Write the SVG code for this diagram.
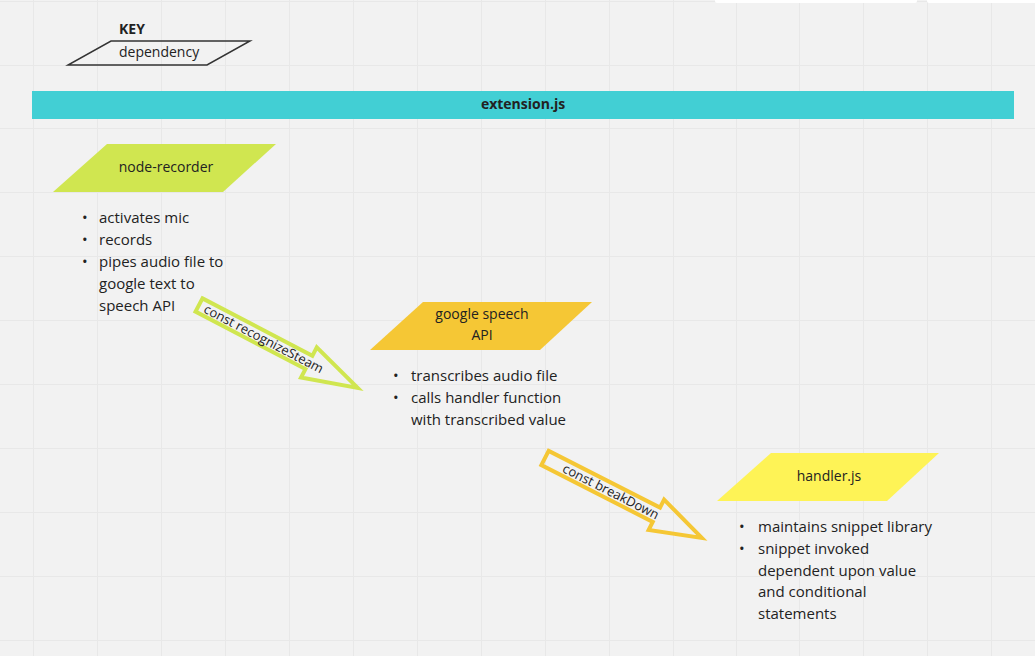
<svg xmlns="http://www.w3.org/2000/svg" width="1035" height="656" viewBox="0 0 1035 656">
<defs>
<style>
text{font-family:"Open Sans","Noto Sans","Liberation Sans",sans-serif;fill:#222;}
.t{font-size:14px;text-anchor:middle;}
.b{font-size:15px;}
.grid line{stroke:#e8e8e8;stroke-width:1;}
.arr{fill:none;stroke-width:4;stroke-linejoin:miter;}
.al{font-size:13px;text-anchor:middle;}
</style>
</defs>
<rect x="0" y="0" width="1035" height="656" fill="#f2f2f2"/>
<g class="grid">
<line x1="33.5" y1="0" x2="33.5" y2="656"/><line x1="97.5" y1="0" x2="97.5" y2="656"/><line x1="161.5" y1="0" x2="161.5" y2="656"/><line x1="225.5" y1="0" x2="225.5" y2="656"/><line x1="289.5" y1="0" x2="289.5" y2="656"/><line x1="353.5" y1="0" x2="353.5" y2="656"/><line x1="417.5" y1="0" x2="417.5" y2="656"/><line x1="481.5" y1="0" x2="481.5" y2="656"/><line x1="545.5" y1="0" x2="545.5" y2="656"/><line x1="609.5" y1="0" x2="609.5" y2="656"/><line x1="673.5" y1="0" x2="673.5" y2="656"/><line x1="736.5" y1="0" x2="736.5" y2="656"/><line x1="799.5" y1="0" x2="799.5" y2="656"/><line x1="863.5" y1="0" x2="863.5" y2="656"/><line x1="927.5" y1="0" x2="927.5" y2="656"/><line x1="991.5" y1="0" x2="991.5" y2="656"/>
<line x1="0" y1="1.5" x2="1035" y2="1.5"/><line x1="0" y1="65.5" x2="1035" y2="65.5"/><line x1="0" y1="128.5" x2="1035" y2="128.5"/><line x1="0" y1="192.5" x2="1035" y2="192.5"/><line x1="0" y1="256.5" x2="1035" y2="256.5"/><line x1="0" y1="320.5" x2="1035" y2="320.5"/><line x1="0" y1="384.5" x2="1035" y2="384.5"/><line x1="0" y1="448.5" x2="1035" y2="448.5"/><line x1="0" y1="512.5" x2="1035" y2="512.5"/><line x1="0" y1="576.5" x2="1035" y2="576.5"/><line x1="0" y1="640.5" x2="1035" y2="640.5"/>
</g>
<rect x="715" y="-3" width="202" height="6" rx="2" fill="#ffffff"/>
<rect x="927" y="-3" width="110" height="6" rx="2" fill="#ffffff"/>

<g id="key">
<text x="119" y="34" style="font-size:14px;font-weight:bold">KEY</text>
<polygon points="111,41 250,41 207,65 68,65" fill="none" stroke="#333" stroke-width="1.5"/>
<text x="119" y="57" style="font-size:14px">dependency</text>
</g>

<g id="extension">
<rect x="32" y="91" width="982" height="28" fill="#42cfd4"/>
<text x="523" y="109" class="t" style="font-weight:bold">extension.js</text>
</g>

<g id="node-recorder">
<polygon points="107,144 276,144 223,192 53,192" fill="#d0e650"/>
<text x="166" y="172" class="t">node-recorder</text>
<g class="b">
<text x="82" y="223">•</text><text x="99" y="223">activates mic</text>
<text x="82" y="245">•</text><text x="99" y="245">records</text>
<text x="82" y="267">•</text><text x="99" y="267">pipes audio file to</text>
<text x="99" y="289">google text to</text>
<text x="99" y="311">speech API</text>
</g>
</g>

<g id="google-speech">
<polygon points="423,302 592,302 540,350 370,350" fill="#f5c735"/>
<text x="482" y="319" class="t">google speech</text>
<text x="482" y="340" class="t">API</text>
<g class="b">
<text x="393" y="381">•</text><text x="411" y="381">transcribes audio file</text>
<text x="393" y="403">•</text><text x="411" y="403">calls handler function</text>
<text x="411" y="425">with transcribed value</text>
</g>
</g>

<g id="handler">
<polygon points="771,453 939,453 887,501 717,501" fill="#fef356"/>
<text x="829" y="481" class="t">handler.js</text>
<g class="b">
<text x="739" y="532">•</text><text x="758" y="532">maintains snippet library</text>
<text x="739" y="554">•</text><text x="758" y="554">snippet invoked</text>
<text x="758" y="576">dependent upon value</text>
<text x="758" y="597">and conditional</text>
<text x="758" y="619">statements</text>
</g>
</g>

<g id="connectors">
<g transform="translate(199,305) rotate(27.6)">
<polygon class="arr" stroke="#d0e650" points="0,-7.5 124,-7.5 124,-17 179,0 124,17 124,7.5 0,7.5"/>
<text class="al" x="73" y="4.5">const recognizeSteam</text>
</g>
<g transform="translate(545,458) rotate(27)">
<polygon class="arr" stroke="#f5c735" points="0,-8 125,-8 125,-17 176,0 125,17 125,8 0,8"/>
<text class="al" x="74" y="4.5">const breakDown</text>
</g>
</g>
</svg>
